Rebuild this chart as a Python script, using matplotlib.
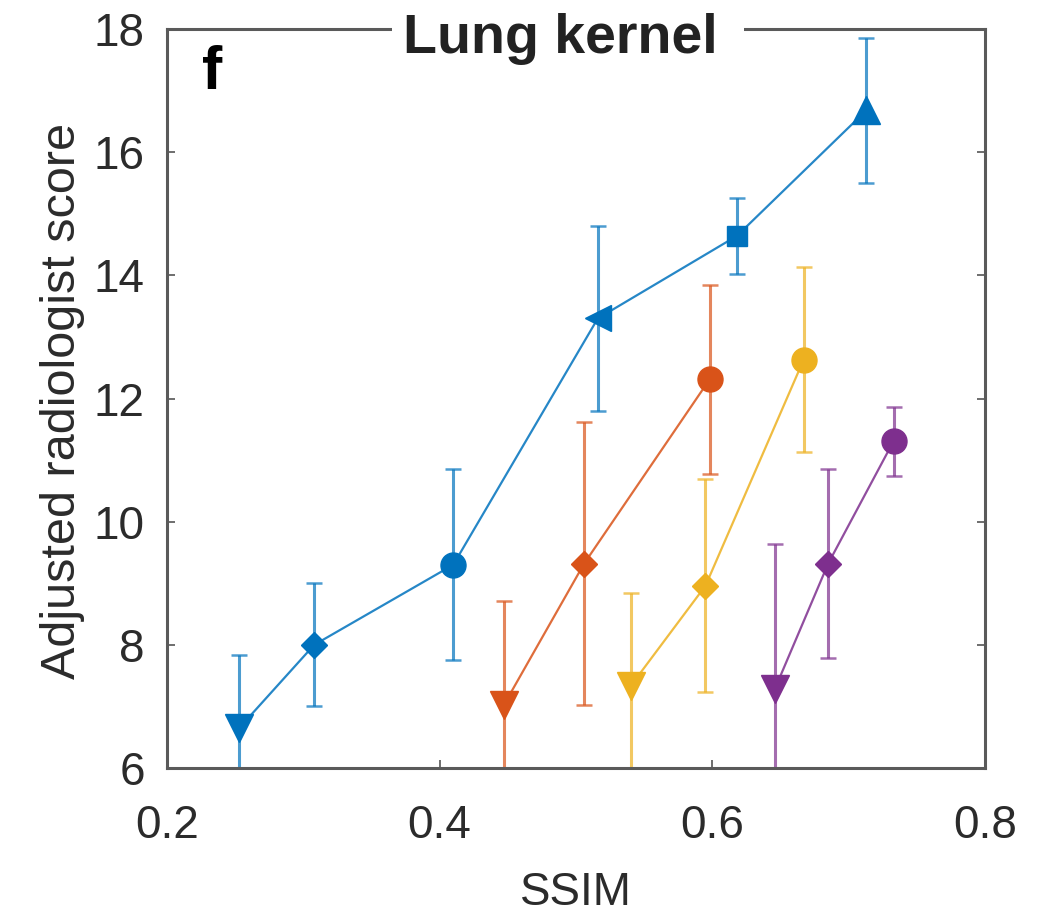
import matplotlib.pyplot as plt

# =========================================================
# DATA
# =========================================================

ssim_blue = [0.253, 0.308, 0.410, 0.516, 0.618, 0.713]
score_blue = [6.65, 8.0, 9.3, 13.3, 14.64, 16.68]
err_blue = [1.18, 1.0, 1.55, 1.5, 0.61, 1.18]
marks_blue = ['v', 'D', 'o', '<', 's', '^']

ssim_red = [0.447, 0.506, 0.598]
score_red = [7.02, 9.32, 12.31]
err_red = [1.7, 2.3, 1.54]

ssim_yellow = [0.540, 0.595, 0.667]
score_yellow = [7.33, 8.96, 12.63]
err_yellow = [1.52, 1.73, 1.5]

ssim_purple = [0.646, 0.685, 0.733]
score_purple = [7.29, 9.32, 11.31]
err_purple = [2.35, 1.53, 0.56]

marks_short = ['v', 'D', 'o']

x_ticks = [0.2, 0.4, 0.6, 0.8]
y_ticks = [6, 8, 10, 12, 14, 16, 18]

series = [
    (ssim_blue, score_blue, err_blue, marks_blue, '#0072BD'),
    (ssim_red, score_red, err_red, marks_short, '#D95319'),
    (ssim_yellow, score_yellow, err_yellow, marks_short, '#EDB120'),
    (ssim_purple, score_purple, err_purple, marks_short, '#7E2F8E'),
]

marker_sizes = {'v': 20, '^': 20, '<': 19, 'D': 13, 'o': 18, 's': 15}

# =========================================================
# FIGURE
# =========================================================

plt.rcParams['font.family'] = ['Liberation Sans', 'DejaVu Sans']

fig = plt.figure(figsize=(10.52, 9.13), dpi=100)
ax = fig.add_axes([0.1587, 0.1588, 0.7776, 0.8094])

axis_gray = '#2b2b2b'

for xs, ys, errs, marks, col in series:
    ax.errorbar(
        xs, ys, yerr=errs,
        fmt='none', ecolor=col, elinewidth=2.2,
        capsize=5.5, capthick=1.8, alpha=0.7, zorder=2
    )
    ax.plot(xs, ys, '-', color=col, lw=1.6, alpha=0.85, zorder=3)
    for x, y, m in zip(xs, ys, marks):
        ax.plot(x, y, marker=m, ms=marker_sizes[m], color=col,
                mec=col, ls='none', zorder=4)

# =========================================================
# AXES STYLING
# =========================================================

ax.set_xlim(0.2, 0.8)
ax.set_ylim(6, 18)
ax.set_xticks(x_ticks)
ax.set_yticks(y_ticks)
ax.set_xticklabels([f"{t:.1f}" for t in x_ticks])

ax.tick_params(direction='in', length=6, width=1.2, colors='#555555',
               labelcolor=axis_gray, labelsize=33, top=True, right=True)
ax.tick_params(axis='x', pad=26)
ax.tick_params(axis='y', pad=16)

for sp in ax.spines.values():
    sp.set_color('#5a5a5a')
    sp.set_linewidth(2.2)

ax.set_xlabel("SSIM", fontsize=33, color=axis_gray, va='baseline')
ax.xaxis.set_label_coords(0.5, -0.185)
ax.set_ylabel("Adjusted radiologist score", fontsize=35, color=axis_gray)
ax.yaxis.set_label_coords(-0.10, 0.497)

ax.text(0.2885, 0.9675, "Lung kernel ", transform=ax.transAxes,
        ha='left', va='baseline', fontsize=40, fontweight='bold',
        color='#222222', zorder=10,
        bbox=dict(boxstyle='square,pad=0.2', facecolor='white',
                  edgecolor='none'))

ax.text(0.043, 0.978, "f", transform=ax.transAxes, ha='left', va='top',
        fontsize=44, fontweight='bold', color='black')

plt.savefig("out.png", dpi=100)
